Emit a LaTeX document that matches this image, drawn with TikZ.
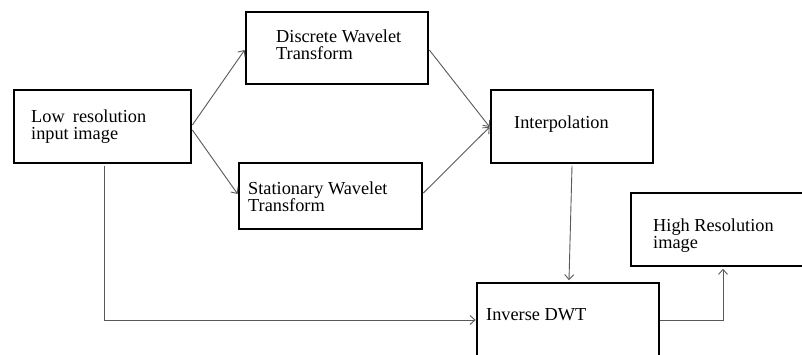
\documentclass[tikz,border=0pt]{standalone}
\usepackage{fontspec}
\setmainfont{Liberation Serif}
\usetikzlibrary{calc,arrows.meta}
\begin{document}
\begin{tikzpicture}[x=1pt,y=-1pt,
  box/.style={draw=black,line width=2.7pt,rectangle,inner sep=0pt},
  lbl/.style={anchor=base west,inner sep=0pt,align=left,font=\fontsize{18.3}{17}\selectfont,text=black},
  conn/.style={draw=black!65,line width=0.9pt,-{Straight Barb[length=5pt,width=9pt]}}]
\useasboundingbox (0,0) rectangle (802,354);
\clip (0,0) rectangle (802,354);
\fill[white] (0,0) rectangle (802,354);
% boxes
\node[box,minimum width=177pt,minimum height=73pt] (low) at (102.5,126.5) {};
\node[box,minimum width=182pt,minimum height=72pt] (dwt) at (337,48) {};
\node[box,minimum width=183pt,minimum height=66pt] (swt) at (330.5,196) {};
\node[box,minimum width=162pt,minimum height=73pt] (interp) at (572,126.5) {};
\node[box,minimum width=182pt,minimum height=74pt] (idwt) at (568,320) {};
\node[box,minimum width=184pt,minimum height=73pt] (hr) at (723,229.5) {};
% labels (base = last line)
\node[lbl] (tlow) at (31,139) {Low\hspace{0.45em}resolution\\input image};
\node[lbl] (tdwt) at (276,59.5) {Discrete Wavelet\\Transform};
\node[lbl] (tswt) at (248,211) {Stationary Wavelet\\Transform};
\node[lbl] (tint) at (514,128) {Interpolation};
\node[lbl] (thr) at (653,248) {High Resolution\\image};
\node[lbl] (tidwt) at (486,320) {Inverse DWT};
% connectors
\draw[conn] ($(low.east)+(0,-1.5)$) -- ($(dwt.west)+(0,2)$);
\draw[conn] ($(low.east)+(0,3.5)$) -- ($(swt.west)+(0,-2)$);
\draw[conn] ($(dwt.east)+(0,2)$) -- ($(interp.west)+(0,0.5)$);
\draw[conn] ($(swt.east)+(0,-3)$) -- ($(interp.west)+(0,0.5)$);
\draw[conn] ($(low.south)+(1.5,1.4)$) |- (idwt.west);
\draw[conn] ($(interp.south)+(0,1.4)$) -- ($(idwt.north)+(1,-1.4)$);
\draw[conn] (idwt.east) -| ($(hr.south)+(0,1.4)$);
\end{tikzpicture}
\end{document}
